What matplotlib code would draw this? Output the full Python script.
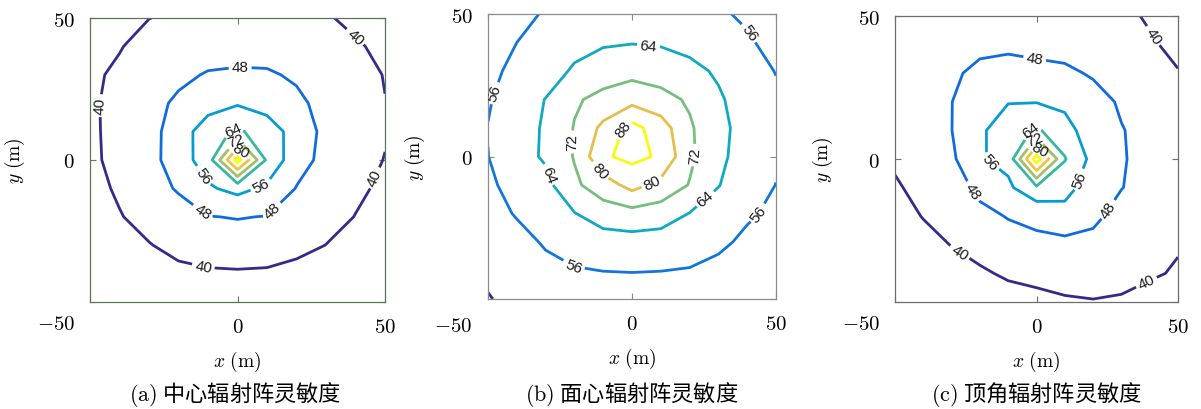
import numpy as np
import matplotlib
matplotlib.use('Agg')
import matplotlib.pyplot as plt
from matplotlib.colors import LinearSegmentedColormap, Normalize
from matplotlib.transforms import offset_copy

plt.rcParams['mathtext.fontset'] = 'cm'
plt.rcParams['font.family'] = ['Liberation Sans', 'DejaVu Sans']

# grid nodes (m)
grid_x = [-50, -40, -30, -20, -10, 0, 10, 20, 30, 40, 50]
grid_y = [-50, -40, -30, -20, -10, 0, 10, 20, 30, 40, 50]

# sensitivity, rows from y=50 (top) down to y=-50
sens_center = [
    [37.0, 38.5, 39.9, 41.0, 42.0, 42.5, 42.3, 41.5, 40.4, 39.0, 37.5],
    [38.0, 39.6, 42.5, 44.0, 45.0, 45.3, 45.2, 44.3, 43.0, 40.5, 39.0],
    [38.8, 41.2, 44.0, 46.6, 48.5, 49.0, 48.8, 47.1, 45.0, 41.8, 39.8],
    [39.0, 42.0, 45.9, 49.1, 53.0, 55.2, 53.5, 49.4, 45.9, 42.5, 40.1],
    [39.0, 41.8, 45.0, 52.2, 60.0, 65.5, 59.3, 53.4, 45.6, 42.6, 40.5],
    [38.8, 41.8, 45.0, 52.5, 59.6, 91.0, 62.6, 50.9, 45.9, 42.5, 39.8],
    [37.2, 41.2, 45.5, 48.6, 55.0, 58.3, 54.5, 47.7, 44.5, 41.5, 38.5],
    [37.0, 39.5, 43.0, 45.4, 47.8, 48.3, 47.8, 45.5, 43.0, 39.8, 37.5],
    [35.5, 37.5, 39.6, 42.5, 44.5, 45.0, 44.5, 42.8, 39.9, 37.5, 35.5],
    [33.5, 35.0, 36.5, 38.0, 38.8, 39.1, 38.8, 37.0, 36.0, 34.5, 33.0],
    [32.0, 33.5, 35.0, 36.0, 36.8, 37.0, 36.8, 36.0, 35.0, 33.5, 32.0],
]
sens_face = [
    [51.5, 54.0, 56.6, 58.5, 59.8, 60.0, 59.8, 58.5, 57.0, 54.8, 52.0],
    [53.0, 56.0, 59.0, 61.5, 63.0, 63.7, 63.2, 61.8, 59.5, 57.0, 53.5],
    [54.5, 57.5, 60.5, 65.0, 68.6, 69.4, 68.5, 66.0, 63.0, 58.5, 55.8],
    [55.3, 60.0, 64.2, 71.1, 74.0, 77.3, 74.5, 71.0, 65.0, 60.5, 57.0],
    [56.2, 61.0, 64.8, 72.4, 82.0, 90.7, 84.0, 73.0, 66.5, 60.5, 57.5],
    [55.9, 61.0, 65.0, 72.5, 87.0, 90.0, 87.0, 73.5, 66.0, 60.0, 57.0],
    [55.0, 58.0, 61.7, 70.6, 76.2, 82.7, 77.7, 71.6, 64.3, 59.5, 55.9],
    [53.0, 56.6, 60.0, 63.7, 68.3, 69.3, 68.0, 63.8, 60.5, 57.0, 54.5],
    [51.0, 53.5, 56.8, 59.0, 60.2, 61.0, 60.5, 59.5, 57.5, 54.5, 52.0],
    [49.0, 51.5, 54.0, 55.5, 56.1, 56.3, 56.1, 55.6, 54.0, 52.0, 50.0],
    [47.7, 49.5, 51.0, 52.0, 52.0, 52.0, 52.0, 52.0, 51.0, 50.0, 48.5],
]
sens_corner = [
    [40.5, 42.0, 43.0, 44.0, 44.0, 43.5, 43.5, 42.5, 41.0, 39.5, 37.5],
    [41.5, 43.5, 45.0, 46.5, 47.0, 46.0, 45.5, 44.5, 42.5, 40.5, 39.0],
    [42.5, 45.0, 47.0, 49.5, 50.0, 50.0, 49.3, 47.3, 45.0, 42.5, 40.2],
    [42.8, 45.5, 47.9, 52.0, 55.7, 55.7, 53.9, 50.5, 47.2, 44.5, 42.0],
    [42.0, 45.0, 47.9, 54.8, 60.0, 65.0, 59.5, 50.8, 48.3, 46.0, 43.5],
    [41.0, 44.0, 46.6, 55.3, 58.3, 92.0, 64.5, 53.5, 48.5, 46.0, 44.0],
    [39.2, 42.0, 45.0, 49.5, 54.5, 62.5, 58.0, 53.0, 48.2, 45.5, 43.0],
    [37.0, 40.3, 44.0, 46.4, 48.3, 49.0, 53.8, 49.5, 45.5, 43.0, 41.0],
    [35.5, 37.5, 40.2, 43.0, 45.6, 47.0, 45.4, 46.0, 44.5, 42.0, 40.6],
    [33.0, 34.5, 36.5, 38.8, 41.2, 42.5, 43.0, 43.5, 43.0, 41.0, 39.2],
    [31.0, 32.0, 33.5, 35.0, 36.5, 37.5, 39.1, 39.6, 38.9, 37.0, 35.5],
]

levels_center = [40, 48, 56, 64, 72, 80, 88]
levels_face = [48, 56, 64, 72, 80, 88]
levels_corner = [40, 48, 56, 64, 72, 80, 88]

captions = [r'$\mathrm{(a)}$ 中心辐射阵灵敏度',
            r'$\mathrm{(b)}$ 面心辐射阵灵敏度',
            r'$\mathrm{(c)}$ 顶角辐射阵灵敏度']

# where the inline labels sit (each lies on its own contour)
labels_center = [(-45.4, 19.2), (-11.5, -37.1), (47.2, -6.6), (39.3, 42.7),
                 (0.9, 32.7), (-11.5, -17.7), (11.1, -17.1),
                 (-11.5, -5.4), (7.7, -8.3),
                 (-1.4, 10.5), (-0.5, 6.8), (1.2, 3.4)]
labels_face = [(-47.1, 22.0), (-19.8, -37.5), (44.0, -20.0), (41.0, 43.6),
               (5.7, 38.9), (-29.7, -6.6), (25.4, -14.8),
               (-20.4, 5.1), (21.9, 0.4),
               (-11.7, -5.4), (6.8, -8.9),
               (-3.0, 9.7)]
labels_corner = [(-27.8, -33.6), (39.0, -43.4), (42.6, 44.0),
                 (-0.6, 35.3), (-23.0, -11.6), (26.6, -18.5),
                 (-16.5, -1.2), (16.0, -7.5),
                 (-2.4, 11.0), (-0.6, 6.8), (1.2, 3.4)]

# parula (MATLAB default map), sampled
parula = LinearSegmentedColormap.from_list('parula', [
    (0 / 63, (0.2081, 0.1663, 0.5292)),
    (7 / 63, (0.0591, 0.3598, 0.8683)),
    (14 / 63, (0.0723, 0.4887, 0.8467)),
    (21 / 63, (0.0265, 0.6137, 0.8135)),
    (28 / 63, (0.0843, 0.6928, 0.7062)),
    (35 / 63, (0.3482, 0.7424, 0.5473)),
    (42 / 63, (0.6473, 0.7456, 0.4188)),
    (49 / 63, (0.8824, 0.7274, 0.3217)),
    (56 / 63, (0.9880, 0.8066, 0.1794)),
    (63 / 63, (0.9763, 0.9831, 0.0538)),
])


def draw_panel(fig, rect, rows, levels, label_pos, edge, corner_off, caption, cap_x):
    ax = fig.add_axes(rect)
    z = np.array(rows)[::-1]
    cs = ax.contour(grid_x, grid_y, z, levels=levels, cmap=parula,
                    norm=Normalize(levels[0], levels[-1]), linewidths=2.0)
    texts = cs.clabel(manual=label_pos, inline=True, inline_spacing=3,
                      fontsize=11, fmt='%d', colors='#1a1a1a')
    for t in texts:
        t.set_fontfamily('Liberation Sans')

    ax.set_xlim(-50, 50)
    ax.set_ylim(-50, 50)
    ax.set_xticks([-50, 0, 50])
    ax.set_xticklabels(['', '$0$', '$50$'])
    ax.set_yticks([-50, 0, 50])
    ax.set_yticklabels(['', '$0$', '$50$'])
    ax.tick_params(direction='in', top=True, right=True, length=4,
                   width=0.8, color=edge, labelsize=15)
    ax.tick_params(axis='x', pad=11)
    ax.tick_params(axis='y', pad=11)
    for s in ax.spines.values():
        s.set_color(edge)
        s.set_linewidth(0.9)

    # shared corner label
    ax.text(0, 0, '$-50$', fontsize=15, ha='right', va='center',
            transform=offset_copy(ax.transAxes, fig=fig, x=corner_off[0],
                                  y=corner_off[1], units='dots'))

    ax.set_xlabel(r'$x\ (\mathrm{m})$', fontsize=14)
    ax.xaxis.set_label_coords(0.5, -0.165)
    ax.set_ylabel(r'$y\ (\mathrm{m})$', fontsize=14)
    ax.yaxis.set_label_coords(-0.212, 0.5)

    fig.text(cap_x / 1201, 1 - 395 / 410, caption, ha='center', va='center',
             fontsize=16, family=['Noto Sans CJK SC', 'DejaVu Sans'])
    return ax


fig = plt.figure(figsize=(12.01, 4.10), dpi=100)

draw_panel(fig, [90 / 1201, 1 - 303 / 410, 295 / 1201, 284 / 410],
           sens_center, levels_center, labels_center, '#5f735f', (-15, -22),
           captions[0], 235)
draw_panel(fig, [488 / 1201, 1 - 300 / 410, 288 / 1201, 285 / 410],
           sens_face, levels_face, labels_face, '#8c8c8c', (-16, -27),
           captions[1], 632)
draw_panel(fig, [895 / 1201, 1 - 303 / 410, 283 / 1201, 286 / 410],
           sens_corner, levels_corner, labels_corner, '#6e6e6e', (-15, -22),
           captions[2], 1037)

fig.savefig('out.png', dpi=100, facecolor='white')
